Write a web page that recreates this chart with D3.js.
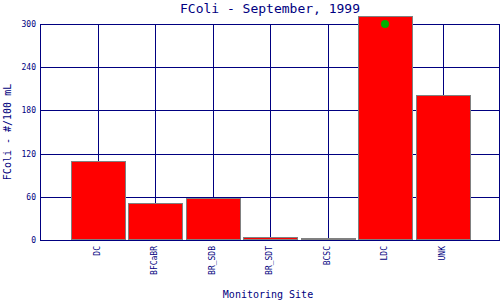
<!DOCTYPE html>
<html>
<head>
<meta charset="utf-8">
<script src="https://cdn.jsdelivr.net/npm/d3@7"></script>
<style>
  body { margin: 0; background: #fff; }
  text { font-family: "DejaVu Sans Mono", monospace; fill: #000080; }
</style>
</head>
<body>
<svg width="500" height="300"></svg>
<script>
// Werte
const sites = ["DC", "BFCaBR", "BR_SDB", "BR_SDT", "BCSC", "LDC", "UNK"];
const fcoli = [109, 50, 57, 3, 0, 310, 200];
const markerSite = ["LDC"];
const markerValue = [300];
const yTicks = [0, 60, 120, 180, 240, 300];

const navy = "#000080";
const plotLeft = 40, plotRight = 499, plotTop = 24, plotBottom = 240;

const svg = d3.select("svg");

const x = d3.scalePoint().domain(sites).range([plotLeft, plotRight + 1]).padding(1);
const y = d3.scaleLinear().domain([0, 300]).range([plotBottom, plotTop]);

// Gitter
const grid = svg.append("g").attr("stroke", navy).attr("stroke-width", 1);
grid.selectAll(".hline")
  .data(yTicks)
  .enter()
  .append("line")
  .attr("x1", plotLeft)
  .attr("x2", plotRight + 1)
  .attr("y1", (d) => Math.round(y(d)) + 0.5)
  .attr("y2", (d) => Math.round(y(d)) + 0.5);
grid.selectAll(".vline")
  .data(sites)
  .enter()
  .append("line")
  .attr("x1", (d) => Math.round(x(d)) + 0.5)
  .attr("x2", (d) => Math.round(x(d)) + 0.5)
  .attr("y1", plotTop)
  .attr("y2", plotBottom);
grid.append("line").attr("x1", plotLeft + 0.5).attr("x2", plotLeft + 0.5).attr("y1", plotTop).attr("y2", plotBottom + 1);
grid.append("line").attr("x1", plotRight + 0.5).attr("x2", plotRight + 0.5).attr("y1", plotTop).attr("y2", plotBottom + 1);

// Balken (Mindesthöhe 1px, damit auch 0 als graue Linie sichtbar bleibt)
const barW = 54;
svg.append("g")
  .selectAll("rect")
  .data(sites)
  .enter()
  .append("rect")
  .attr("x", (d) => Math.round(x(d) - barW / 2) + 0.5)
  .attr("y", (d, i) => Math.min(Math.round(y(fcoli[i])), plotBottom - 1) - 0.5)
  .attr("width", barW)
  .attr("height", (d, i) => Math.max(plotBottom - Math.round(y(fcoli[i])), 1))
  .attr("fill", "#ff0000")
  .attr("stroke", "#808080")
  .attr("stroke-width", 1);

// grüner Punkt
svg.append("g")
  .selectAll("circle")
  .data(markerSite)
  .enter()
  .append("circle")
  .attr("cx", (d) => x(d))
  .attr("cy", (d, i) => y(markerValue[i]))
  .attr("r", 4)
  .attr("fill", "#00b000");

// y-Achse
svg.append("g")
  .selectAll("text")
  .data(yTicks)
  .enter()
  .append("text")
  .attr("x", 36)
  .attr("y", (d) => y(d) + 3)
  .attr("text-anchor", "end")
  .style("font-size", "8px")
  .text((d) => d);

// x-Achse Beschriftung
svg.append("g")
  .selectAll("text")
  .data(sites)
  .enter()
  .append("text")
  .attr("transform", (d) => "translate(" + (x(d) + 2) + ",246) rotate(-90)")
  .attr("text-anchor", "end")
  .style("font-size", "8px")
  .text((d) => d);

// Titel
svg.append("text")
  .attr("x", 270)
  .attr("y", 13)
  .attr("text-anchor", "middle")
  .style("font-size", "13px")
  .text("FColi - September, 1999");

svg.append("text")
  .attr("x", 268)
  .attr("y", 298)
  .attr("text-anchor", "middle")
  .style("font-size", "10px")
  .text("Monitoring Site");

svg.append("text")
  .attr("transform", "translate(11,132) rotate(-90)")
  .attr("text-anchor", "middle")
  .style("font-size", "10px")
  .text("FColi - #/100 mL");
</script>
</body>
</html>
